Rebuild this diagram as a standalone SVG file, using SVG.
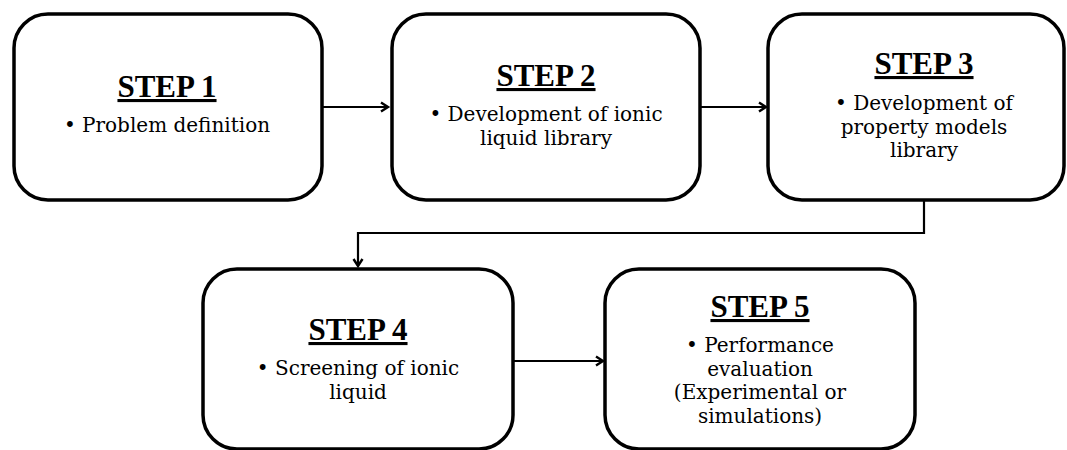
<svg xmlns="http://www.w3.org/2000/svg" width="1067" height="450" viewBox="0 0 1067 450">
<style>
.box{fill:#fff;stroke:#000;stroke-width:3.5}
.con{fill:none;stroke:#000;stroke-width:2.2}
text{font-family:'Liberation Serif','DejaVu Serif',serif;fill:#000;text-anchor:middle}
.title{font-weight:bold;font-size:31px;text-decoration:underline}
.body{font-family:'DejaVu Serif','Liberation Serif',serif;font-size:20px}
</style>
<defs>
<marker id="ah" markerWidth="12" markerHeight="12" refX="9" refY="6" orient="auto" markerUnits="userSpaceOnUse">
<path d="M2,1.5 L9,6 L2,10.5" fill="none" stroke="#000" stroke-width="2.4"/>
</marker>
</defs>
<g id="connectors">
<line class="con" x1="323" y1="107" x2="388" y2="107" marker-end="url(#ah)"/>
<line class="con" x1="700" y1="107" x2="766" y2="107" marker-end="url(#ah)"/>
<polyline class="con" points="924,201 924,233 358,233 358,266" marker-end="url(#ah)"/>
<line class="con" x1="513" y1="361" x2="603" y2="361" marker-end="url(#ah)"/>
</g>
<g id="step1">
<rect class="box" x="14" y="14" width="308" height="186" rx="34"/>
<text class="title" x="167" y="97">STEP 1</text>
<text class="body" x="167" y="132">• Problem definition</text>
</g>
<g id="step2">
<rect class="box" x="392" y="14" width="308" height="186" rx="34"/>
<text class="title" x="546" y="86">STEP 2</text>
<text class="body" x="546" y="121">• Development of ionic</text>
<text class="body" x="546" y="144.5">liquid library</text>
</g>
<g id="step3">
<rect class="box" x="768" y="14" width="296" height="186" rx="34"/>
<text class="title" x="924" y="74">STEP 3</text>
<text class="body" x="924" y="110">• Development of</text>
<text class="body" x="924" y="133.5">property models</text>
<text class="body" x="924" y="157">library</text>
</g>
<g id="step4">
<rect class="box" x="203" y="269" width="310" height="180" rx="34"/>
<text class="title" x="358" y="340">STEP 4</text>
<text class="body" x="358" y="375">• Screening of ionic</text>
<text class="body" x="358" y="398.5">liquid</text>
</g>
<g id="step5">
<rect class="box" x="605" y="269" width="310" height="180" rx="34"/>
<text class="title" x="760" y="317">STEP 5</text>
<text class="body" x="760" y="352">• Performance</text>
<text class="body" x="760" y="375.5">evaluation</text>
<text class="body" x="760" y="399">(Experimental or</text>
<text class="body" x="760" y="422.5">simulations)</text>
</g>
</svg>
